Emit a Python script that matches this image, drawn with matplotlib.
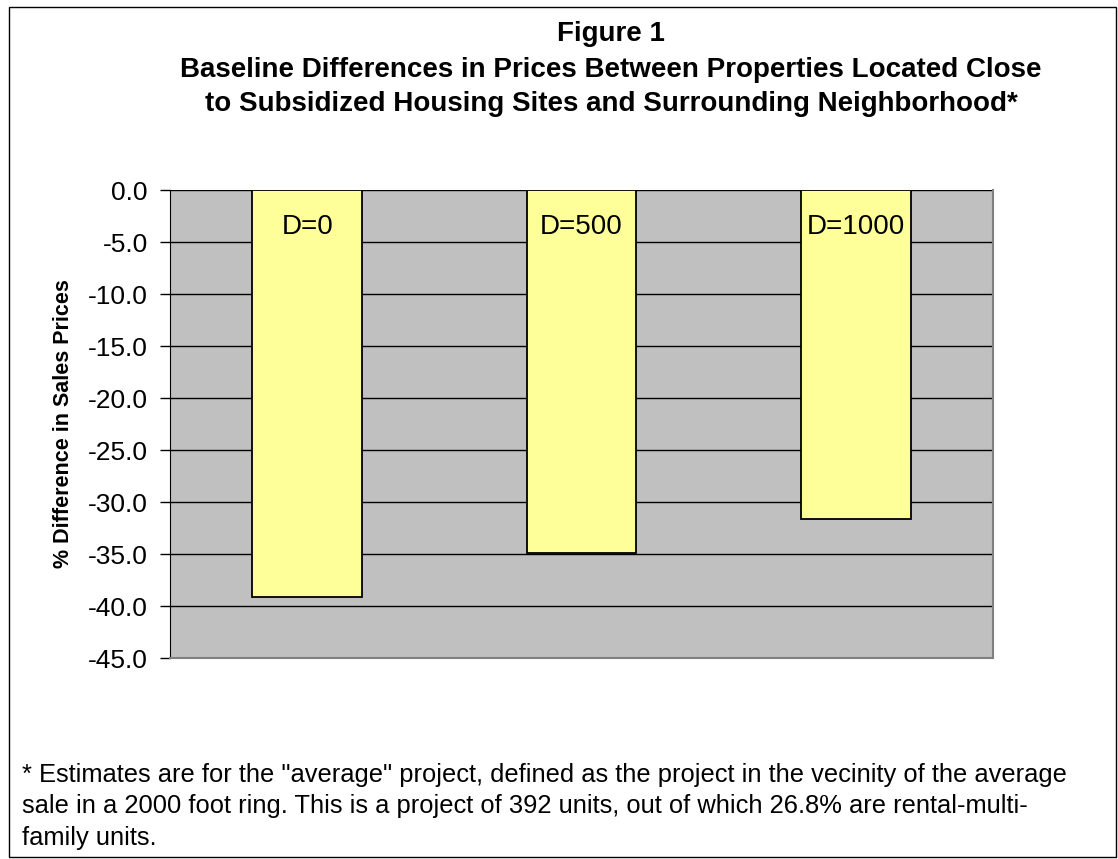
import matplotlib
matplotlib.use('Agg')
import matplotlib.pyplot as plt
from matplotlib.patches import Rectangle
import numpy as np

categories = ["D=0", "D=500", "D=1000"]
pct_diff = [-39.1, -34.9, -31.6]
y_ticks = [0.0, -5.0, -10.0, -15.0, -20.0, -25.0, -30.0, -35.0, -40.0, -45.0]

title_lines = [
    "Figure 1",
    "Baseline Differences in Prices Between Properties Located Close",
    "to Subsidized Housing Sites and Surrounding Neighborhood*",
]
footnote_lines = [
    '* Estimates are for the "average" project, defined as the project in the vecinity of the average',
    "sale in a 2000 foot ring. This is a project of 392 units, out of which 26.8% are rental-multi-",
    "family units.",
]

plt.rcParams['font.family'] = ['Liberation Sans', 'DejaVu Sans']

W, H = 1118, 859
fig = plt.figure(figsize=(W / 100, H / 100), dpi=100)

# outer frame
fig.patches.append(Rectangle((9 / W, 2 / H), 1107 / W, 850 / H, transform=fig.transFigure,
                             fill=False, edgecolor='black', linewidth=1.0))

ax = fig.add_axes([170 / W, 1 - 658 / H, 823 / W, 468 / H])
ax.set_facecolor('#C0C0C0')

x = np.arange(len(categories))
ax.bar(x, pct_diff, width=0.4, color='#FFFF99', edgecolor='black', linewidth=1.3, zorder=3)
for xi, lab in zip(x, categories):
    ax.text(xi, -3.6, lab, ha='center', va='center', fontsize=20, zorder=4)

ax.set_xlim(-0.5, 2.5)
ax.set_ylim(-45, 0)
ax.set_yticks(y_ticks)
ax.set_yticklabels([f"{v:.1f}" for v in y_ticks], fontsize=19)
ax.set_xticks([])
ax.yaxis.grid(True, color='black', linewidth=1.0, zorder=1)
ax.set_axisbelow(True)
ax.tick_params(axis='y', length=7, width=1, direction='out', pad=9)

ax.spines['left'].set_color('black')
ax.spines['top'].set_visible(False)
ax.spines['right'].set_color('#808080')
ax.spines['bottom'].set_color('#808080')
ax.spines['right'].set_linewidth(1.5)
ax.spines['bottom'].set_linewidth(1.5)

ax.set_ylabel("% Difference in Sales Prices", fontsize=15.5, fontweight='bold', labelpad=10)

title_y = [34, 70, 104]
for yy, line in zip(title_y, title_lines):
    fig.text(611 / W, 1 - yy / H, line, ha='center', va='center',
             fontsize=20, fontweight='bold')

for i, line in enumerate(footnote_lines):
    fig.text(22 / W, 1 - (775 + 31.5 * i) / H, line, ha='left', va='center', fontsize=18.4)

fig.savefig('out.png', dpi=100)
